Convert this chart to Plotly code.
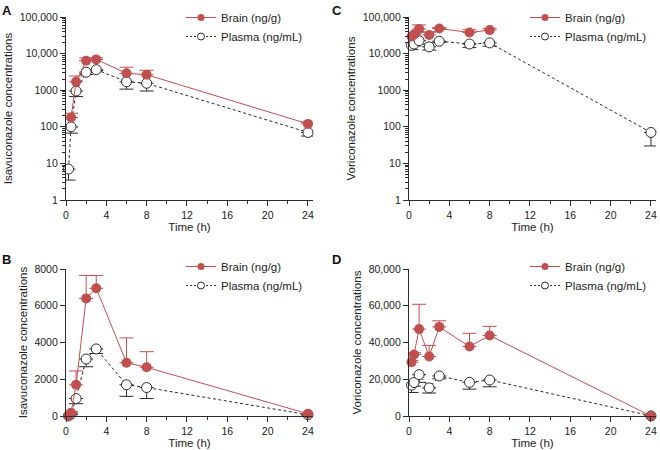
import plotly.graph_objects as go
from plotly.subplots import make_subplots

# sampling times (h)
time_h = [0.25, 0.5, 1, 2, 3, 6, 8, 24]

# isavuconazole
isa_brain = [0, 180, 1700, 6400, 6950, 2900, 2650, 120]
isa_brain_err = [0, 55, 750, 1250, 700, 1350, 850, 15]
isa_plasma = [7, 100, 950, 3100, 3650, 1700, 1550, 70]
isa_plasma_err = [3.5, 33, 280, 420, 250, 630, 600, 14]

# voriconazole
vor_brain = [29300, 33500, 47300, 32400, 48500, 37800, 43800, 0]
vor_brain_err = [1000, 1000, 13500, 6000, 3300, 7200, 5000, 0]
vor_plasma = [16800, 18200, 22500, 15300, 21800, 18300, 19600, 70]
vor_plasma_err = [4000, 2000, 4200, 2800, 1600, 3700, 3700, 40]

log_ticks = [1, 10, 100, 1000, 10000, 100000]
log_labels = ["1", "10", "100", "1000", "10,000", "100,000"]
log_minor = [m * d for d in [1, 10, 100, 1000, 10000] for m in range(2, 10)]

RED = "#c0504f"
INK = "#2b2b2b"
FONT = "Liberation Sans, Arial, sans-serif"

W, H = 660, 450


def px(x):
    return x / W


def py(y):
    return 1 - y / H


fig = make_subplots(rows=2, cols=2)

panels = [
    (1, 1, isa_brain, isa_brain_err, isa_plasma, isa_plasma_err, "legend", True),
    (1, 2, vor_brain, vor_brain_err, vor_plasma, vor_plasma_err, "legend2", True),
    (2, 1, isa_brain, isa_brain_err, isa_plasma, isa_plasma_err, "legend3", False),
    (2, 2, vor_brain, vor_brain_err, vor_plasma, vor_plasma_err, "legend4", False),
]

for r, c, b, be, p, pe, leg, is_log in panels:
    b_vals = [v if (v > 0 or not is_log) else None for v in b]
    fig.add_trace(go.Scatter(
        x=time_h, y=p, mode="lines+markers", showlegend=False,
        line=dict(color=INK, width=1, dash="3px,2.5px"),
        marker=dict(symbol="circle", size=10, color="white", line=dict(color=INK, width=1)),
        error_y=dict(type="data", symmetric=False, array=[0] * len(p), arrayminus=pe,
                     color=INK, thickness=1, width=7),
        cliponaxis=False,
    ), row=r, col=c)
    fig.add_trace(go.Scatter(
        x=time_h, y=b_vals, mode="lines+markers", showlegend=False,
        line=dict(color=RED, width=1),
        marker=dict(symbol="circle", size=10, color=RED),
        error_y=dict(type="data", symmetric=False, array=be, arrayminus=[0] * len(b),
                     color=RED, thickness=1, width=7),
        cliponaxis=False,
    ), row=r, col=c)
    # legend entries with smaller symbols
    fig.add_trace(go.Scatter(
        x=[None], y=[None], mode="lines+markers", name="Brain (ng/g)", legend=leg,
        line=dict(color=RED, width=1), marker=dict(size=7, color=RED), legendrank=1,
    ), row=r, col=c)
    fig.add_trace(go.Scatter(
        x=[None], y=[None], mode="lines+markers", name="Plasma (ng/mL)", legend=leg,
        line=dict(color=INK, width=1, dash="2px,2px"),
        marker=dict(size=7, color="white", line=dict(color=INK, width=1)), legendrank=2,
    ), row=r, col=c)

xdom_left = [px(66), px(313)]
xdom_right = [px(409), px(656)]
ydom_top = [py(200), py(17)]
ydom_bot = [py(416), py(269)]

tick_font = dict(size=10.5, color="#222")
title_font = dict(size=11.5, color="#222")
axis_common = dict(showline=True, linecolor=INK, linewidth=1.3, ticks="outside",
                   tickcolor=INK, tickwidth=1.2, ticklen=5, showgrid=False, zeroline=False,
                   tickfont=tick_font, automargin=False)

for i, (xd, yd) in enumerate([(xdom_left, ydom_top), (xdom_right, ydom_top),
                              (xdom_left, ydom_bot), (xdom_right, ydom_bot)], start=1):
    xa = "xaxis" if i == 1 else f"xaxis{i}"
    fig.layout[xa].update(domain=xd, range=[0, 24.5], tickvals=[0, 4, 8, 12, 16, 20, 24],
                          minor=dict(ticks="outside", ticklen=3, tickvals=[2, 6, 10, 14, 18, 22],
                                     tickcolor=INK),
                          title=dict(text="Time (h)", font=title_font, standoff=3),
                          **axis_common)

ytitles = ["Isavuconazole concentrations", "Voriconazole concentrations",
           "Isavuconazole concentrations", "Voriconazole concentrations"]
for i in [1, 2]:
    ya = "yaxis" if i == 1 else f"yaxis{i}"
    fig.layout[ya].update(domain=ydom_top, type="log", range=[0, 5], tickvals=log_ticks,
                          ticktext=log_labels,
                          minor=dict(ticks="outside", ticklen=3, tickvals=log_minor, tickcolor=INK),
                          title=dict(text=ytitles[i - 1], font=title_font, standoff=4),
                          **axis_common)

fig.layout.yaxis3.update(domain=ydom_bot, range=[0, 8000], tickvals=[0, 2000, 4000, 6000, 8000],
                         ticktext=["0", "2000", "4000", "6000", "8000"],
                         title=dict(text=ytitles[2], font=title_font, standoff=4),
                         **axis_common)
fig.layout.yaxis4.update(domain=ydom_bot, range=[0, 80000], tickvals=[0, 20000, 40000, 60000, 80000],
                         ticktext=["0", "20,000", "40,000", "60,000", "80,000"],
                         title=dict(text=ytitles[3], font=title_font, standoff=4),
                         **axis_common)

leg_style = dict(font=dict(size=11.5, color="#222"), bgcolor="rgba(0,0,0,0)",
                 xanchor="left", yanchor="top", itemwidth=30, tracegroupgap=0)
fig.update_layout(
    legend=dict(x=px(181), y=py(3), **leg_style),
    legend2=dict(x=px(525), y=py(3), **leg_style),
    legend3=dict(x=px(181), y=py(252), **leg_style),
    legend4=dict(x=px(525), y=py(252), **leg_style),
)

for label, x, y in [("A", 0, 1), ("C", 330, 1), ("B", 0, 250), ("D", 330, 250)]:
    fig.add_annotation(text="<b>" + label + "</b>", x=px(x), y=py(y),
                       xref="paper", yref="paper",
                       xanchor="left", yanchor="top", showarrow=False,
                       font=dict(size=13, color="#111"))

fig.update_layout(
    width=W, height=H, margin=dict(l=0, r=0, t=0, b=0),
    plot_bgcolor="white", paper_bgcolor="white",
    font=dict(family=FONT, color="#222"), showlegend=True,
)

# drop the browser's default 8px body margin so the figure sits at the page corner
fig.write_html("out.html", config={"displayModeBar": False},
               post_script="document.body.style.margin='0';")
